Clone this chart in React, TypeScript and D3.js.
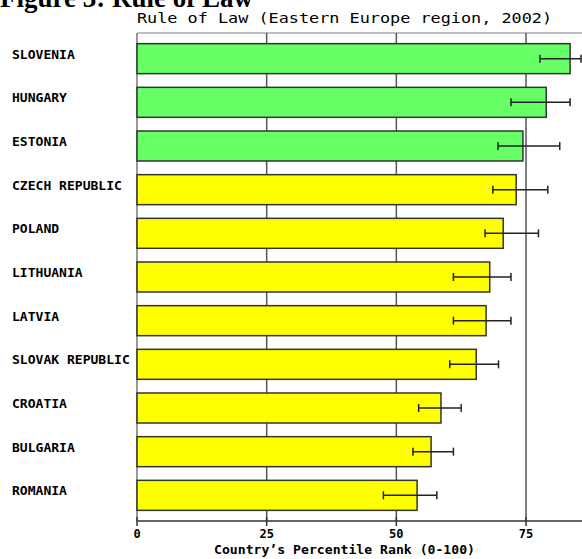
import React from "react";
import * as d3 from "d3";

const countries = [
  "SLOVENIA",
  "HUNGARY",
  "ESTONIA",
  "CZECH REPUBLIC",
  "POLAND",
  "LITHUANIA",
  "LATVIA",
  "SLOVAK REPUBLIC",
  "CROATIA",
  "BULGARIA",
  "ROMANIA",
];
const percentile = [83.5, 78.9, 74.4, 73.1, 70.6, 68.0, 67.3, 65.4, 58.6, 56.7, 54.0];
const lower = [77.7, 72.1, 69.6, 68.6, 67.1, 61.0, 61.0, 60.3, 54.3, 53.2, 47.5];
const upper = [85.6, 83.5, 81.5, 79.2, 77.4, 72.1, 72.1, 69.7, 62.5, 61.0, 57.8];
const tier = ["top", "top", "top", "mid", "mid", "mid", "mid", "mid", "mid", "mid", "mid"];
const xTicks = [0, 25, 50, 75];

const W = 582;
const H = 559;
const mono = "'DejaVu Sans Mono', 'Liberation Mono', monospace";

export default function App() {
  const x = d3.scaleLinear().domain([0, 100]).range([137, 655.7]);
  const y = d3
    .scaleBand<string>()
    .domain(countries)
    .range([33, 521])
    .paddingInner(0.313)
    .paddingOuter(0.244);
  const fill = (t: string) => (t === "top" ? "#66ff66" : "#ffff00");
  const bh = y.bandwidth();

  return (
    <svg
      width={W}
      height={H}
      style={{ position: "absolute", left: 0, top: 0, background: "#fff" }}
    >
      <text
        x={0}
        y={7}
        fontFamily="'Liberation Serif', 'Times New Roman', serif"
        fontWeight="bold"
        fontSize={27}
        fill="#000"
        textLength={253}
        lengthAdjust="spacingAndGlyphs"
      >
        Figure 3:  Rule of Law
      </text>
      <text
        x={137}
        y={23}
        fontFamily={mono}
        fontSize={14}
        fill="#000"
        textLength={415}
        lengthAdjust="spacingAndGlyphs"
      >
        Rule of Law (Eastern Europe region, 2002)
      </text>

      {/* frame top and left edge */}
      <line x1={137} x2={W} y1={33} y2={33} stroke="#aaa" strokeWidth={1.5} />
      <line x1={137} x2={137} y1={33} y2={521} stroke="#777" strokeWidth={1.5} />

      {/* vertical grid */}
      {xTicks.slice(1).map((t) => (
        <line
          key={"g" + t}
          x1={x(t)}
          x2={x(t)}
          y1={33}
          y2={521}
          stroke="#555"
          strokeWidth={1.5}
        />
      ))}

      {countries.map((c, i) => {
        const y0 = y(c) as number;
        const cy = y0 + bh / 2;
        return (
          <g key={c}>
            <rect
              x={x(0)}
              y={y0}
              width={x(percentile[i]) - x(0)}
              height={bh}
              fill={fill(tier[i])}
              stroke="#333"
              strokeWidth={1.5}
            />
            <line x1={x(lower[i])} x2={x(upper[i])} y1={cy} y2={cy} stroke="#222" strokeWidth={1.5} />
            <line x1={x(lower[i])} x2={x(lower[i])} y1={cy - 4} y2={cy + 4} stroke="#222" strokeWidth={1.5} />
            <line x1={x(upper[i])} x2={x(upper[i])} y1={cy - 4} y2={cy + 4} stroke="#222" strokeWidth={1.5} />
            <text
              x={12}
              y={cy}
              fontFamily={mono}
              fontWeight="bold"
              fontSize={12}
              fill="#000"
              textLength={c.length * 7.85}
              lengthAdjust="spacingAndGlyphs"
            >
              {c}
            </text>
          </g>
        );
      })}

      {/* x axis */}
      <line x1={137} x2={W} y1={521} y2={521} stroke="#333" strokeWidth={1.5} />
      {xTicks.map((t) => (
        <g key={"t" + t}>
          <line x1={x(t)} x2={x(t)} y1={517} y2={526} stroke="#333" strokeWidth={1.5} />
          <text
            x={x(t)}
            y={538}
            textAnchor="middle"
            fontFamily={mono}
            fontWeight="bold"
            fontSize={12}
            fill="#000"
          >
            {t}
          </text>
        </g>
      ))}
      <text
        x={214}
        y={554}
        fontFamily={mono}
        fontWeight="bold"
        fontSize={12}
        fill="#000"
        textLength={261}
        lengthAdjust="spacingAndGlyphs"
      >
        Country’s Percentile Rank (0-100)
      </text>
    </svg>
  );
}
